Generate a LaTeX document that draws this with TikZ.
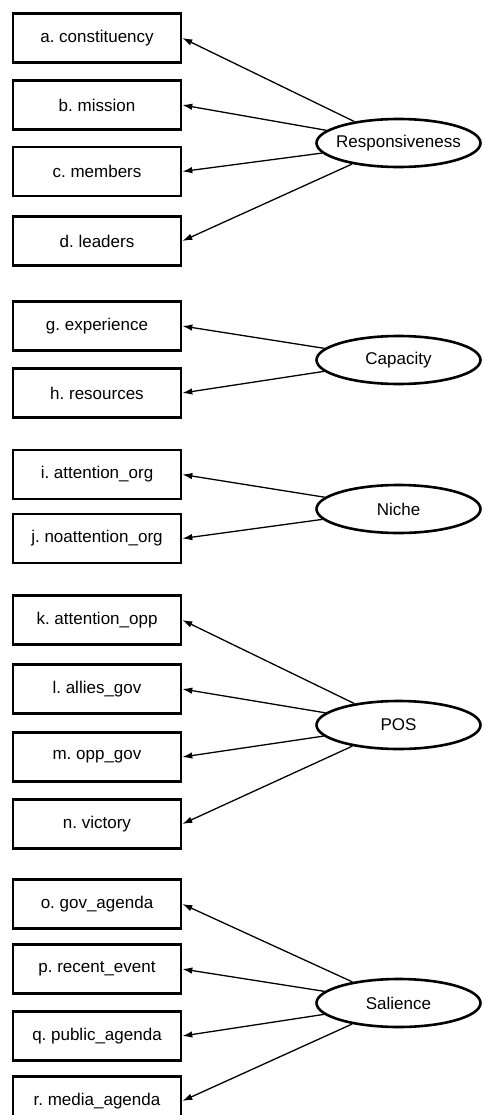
\documentclass[tikz,border=0pt]{standalone}
\usepackage{fontspec}
\setmainfont{Liberation Sans}
\usepackage{tikz}
\usetikzlibrary{shapes,arrows,arrows.meta}
\frenchspacing

\begin{document}
\begin{tikzpicture}[x=1pt,y=-1pt]
      \tikzstyle{box} = [rectangle, draw, line width=2.6pt, minimum width=168pt, minimum height=49pt, inner sep=0pt, font=\fontsize{17}{20}\selectfont]
      \tikzstyle{factor} = [ellipse, draw, line width=2.6pt, minimum width=164pt, minimum height=48pt, inner sep=0pt, font=\fontsize{17}{20}\selectfont]
      \tikzstyle{load} = [line width=1.3pt, -{Latex[length=10pt,width=6.5pt]}]
      \useasboundingbox (0,0) rectangle (482,1115);
      % responsiveness
      \node (a) [box] at (97,38) {a. constituency};
      \node (b) [box] at (97,105) {b. mission};
      \node (c) [box] at (97,171.5) {c. members};
      \node (d) [box] at (97,241) {d. leaders};
      \node (resp) [factor] at (398.5,143) {\makebox[0pt]{Responsiveness}};
      % capacity
      \node (g) [box] at (97,326) {g. experience};
      \node (h) [box] at (97,393) {h. resources};
      \node (cap) [factor] at (398.5,360) {\makebox[0pt]{Capacity}};
      % niche
      \node (i) [box] at (97,474.5) {i. attention\_org};
      \node (j) [box] at (97,538.5) {j. noattention\_org};
      \node (niche) [factor] at (398.5,509) {\makebox[0pt]{Niche}};
      % pos
      \node (k) [box] at (97,620) {k. attention\_opp};
      \node (l) [box] at (97,689) {l. allies\_gov};
      \node (m) [box] at (97,757) {m. opp\_gov};
      \node (n) [box] at (97,824) {n. victory};
      \node (pos) [factor] at (398.5,725) {\makebox[0pt]{POS}};
      % salience
      \node (o) [box] at (97,904) {o. gov\_agenda};
      \node (p) [box] at (97,969) {p. recent\_event};
      \node (q) [box] at (97,1036) {q. public\_agenda};
      \node (r) [box] at (97,1101) {r. media\_agenda};
      \node (sal) [factor] at (398.5,1003) {\makebox[0pt]{Salience}};
      \draw [load] (resp)--(a.east);
      \draw [load] (resp)--(b.east);
      \draw [load] (resp)--(c.east);
      \draw [load] (resp)--(d.east);
      \draw [load] (cap)--(g.east);
      \draw [load] (cap)--(h.east);
      \draw [load] (niche)--(i.east);
      \draw [load] (niche)--(j.east);
      \draw [load] (pos)--(k.east);
      \draw [load] (pos)--(l.east);
      \draw [load] (pos)--(m.east);
      \draw [load] (pos)--(n.east);
      \draw [load] (sal)--(o.east);
      \draw [load] (sal)--(p.east);
      \draw [load] (sal)--(q.east);
      \draw [load] (sal)--(r.east);
\end{tikzpicture}
\end{document}
